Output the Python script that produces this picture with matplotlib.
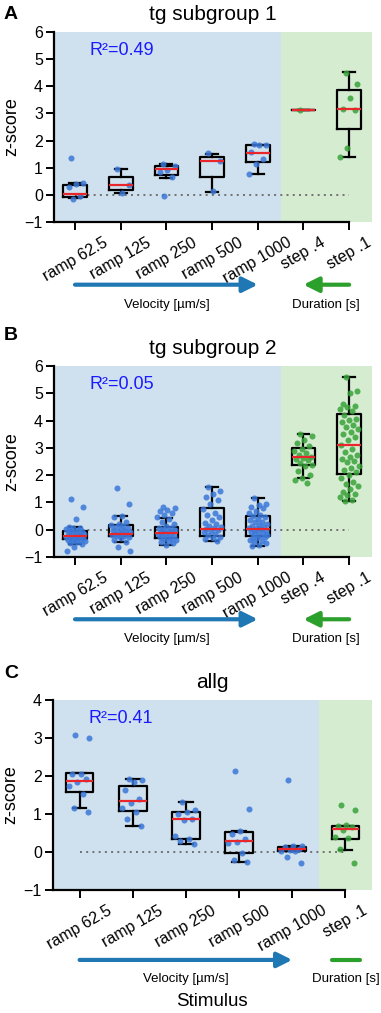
import numpy as np
import matplotlib
matplotlib.use('Agg')
import matplotlib.pyplot as plt

plt.rcParams['font.family'] = ['Liberation Sans', 'DejaVu Sans']

# ---- data ----
labels_ab = ['ramp 62.5', 'ramp 125', 'ramp 250', 'ramp 500', 'ramp 1000', 'step .4', 'step .1']
labels_c = ['ramp 62.5', 'ramp 125', 'ramp 250', 'ramp 500', 'ramp 1000', 'step .1']

# panel A: tg subgroup 1
a_q1 = [-0.08, 0.17, 0.72, 0.66, 1.22, 3.12, 2.43]
a_med = [0.04, 0.36, 0.96, 1.24, 1.55, 3.12, 3.18]
a_q3 = [0.37, 0.66, 1.06, 1.38, 1.84, 3.12, 3.85]
a_lo = [-0.12, 0.05, 0.63, 0.12, 0.77, 3.12, 1.40]
a_hi = [0.42, 0.96, 1.12, 1.50, 1.85, 3.12, 4.52]
a_points = [
    [1.34, 0.43, 0.40, 0.28, -0.05, -0.14],
    [0.96, 0.37, 0.05],
    [1.12, 1.05, 0.92, 0.85, 0.66, -0.05],
    [1.53, 1.23, 0.13],
    [1.86, 1.85, 1.83, 1.57, 1.32, 1.15, 0.78],
    [3.12],
    [4.50, 4.08, 3.58, 3.15, 3.12, 1.72, 1.40],
]

# panel B: tg subgroup 2
b_q1 = [-0.35, -0.24, -0.30, -0.23, -0.23, 2.39, 2.03]
b_med = [-0.24, -0.16, -0.11, 0.01, 0.02, 2.65, 3.10]
b_q3 = [-0.05, 0.17, 0.10, 0.81, 0.51, 2.98, 4.25]
b_lo = [-0.54, -0.45, -0.55, -0.41, -0.59, 1.88, 1.05]
b_hi = [0.10, 0.50, 0.43, 1.56, 1.17, 3.49, 5.60]
b_points = [
    [1.14, 0.82, 0.38, 0.10, 0.08, 0.05, 0.02, 0.0, -0.03, -0.05, -0.08, -0.10, -0.12,
     -0.15, -0.17, -0.20, -0.22, -0.24, -0.25, -0.27, -0.28, -0.30, -0.32, -0.34, -0.36,
     -0.38, -0.40, -0.42, -0.45, -0.50, -0.54, -0.62, -0.78],
    [1.54, 0.94, 0.50, 0.45, 0.30, 0.20, 0.17, 0.12, 0.10, 0.05, 0.02, -0.02, -0.05,
     -0.08, -0.10, -0.13, -0.15, -0.16, -0.18, -0.20, -0.22, -0.24, -0.28, -0.32, -0.38,
     -0.45, -0.62, -0.78],
    [0.83, 0.79, 0.72, 0.68, 0.62, 0.55, 0.47, 0.40, 0.30, 0.20, 0.12, 0.08, 0.05, 0.02,
     -0.02, -0.05, -0.08, -0.10, -0.12, -0.14, -0.17, -0.20, -0.23, -0.26, -0.28, -0.30,
     -0.33, -0.36, -0.40, -0.45, -0.50, -0.55],
    [1.56, 1.42, 1.30, 1.20, 1.10, 0.95, 0.75, 0.62, 0.55, 0.45, 0.35, 0.25, 0.20, 0.15,
     0.10, 0.05, 0.02, 0.0, -0.05, -0.10, -0.15, -0.20, -0.25, -0.30, -0.35, -0.40],
    [1.17, 0.95, 0.90, 0.85, 0.78, 0.70, 0.62, 0.55, 0.50, 0.45, 0.40, 0.35, 0.30, 0.28,
     0.22, 0.18, 0.15, 0.10, 0.08, 0.05, 0.02, 0.0, -0.03, -0.06, -0.10, -0.13, -0.16,
     -0.20, -0.22, -0.25, -0.28, -0.32, -0.36, -0.40, -0.45, -0.50, -0.55, -0.60],
    [3.52, 3.42, 3.30, 3.18, 3.05, 2.97, 2.90, 2.82, 2.75, 2.68, 2.64, 2.58, 2.54, 2.45,
     2.38, 2.32, 2.17, 1.99, 1.90, 1.81, 1.72],
    [5.60, 5.10, 5.02, 4.60, 4.53, 4.48, 4.43, 4.35, 4.19, 4.07, 4.02, 3.95, 3.85, 3.76,
     3.70, 3.58, 3.52, 3.40, 3.27, 3.10, 2.97, 2.85, 2.72, 2.65, 2.60, 2.52, 2.48, 2.35,
     2.27, 2.20, 2.11, 1.99, 1.90, 1.75, 1.69, 1.60, 1.50, 1.38, 1.32, 1.26, 1.20, 1.10, 1.05],
]

# panel C: allg
c_q1 = [1.57, 1.09, 0.35, -0.03, 0.03, 0.34]
c_med = [1.87, 1.33, 0.88, 0.28, 0.08, 0.60]
c_q3 = [2.07, 1.75, 1.05, 0.53, 0.14, 0.69]
c_lo = [1.15, 0.68, 0.21, -0.27, 0.02, 0.06]
c_hi = [2.07, 1.92, 1.32, 0.55, 0.16, 0.69]
c_points = [
    [3.09, 2.99, 2.06, 2.05, 1.93, 1.83, 1.75, 1.52, 1.15, 1.05],
    [1.93, 1.90, 1.83, 1.62, 1.40, 1.30, 1.16, 1.05, 0.88, 0.68],
    [1.32, 1.10, 1.05, 1.00, 0.88, 0.84, 0.42, 0.35, 0.30, 0.22],
    [2.12, 1.12, 0.56, 0.47, 0.34, 0.27, 0.25, -0.02, -0.20, -0.27],
    [1.89, 0.17, 0.15, 0.12, 0.09, 0.06, 0.03, 0.02, -0.12, -0.28],
    [1.25, 1.10, 0.72, 0.68, 0.66, 0.57, 0.40, 0.36, 0.07, -0.30],
]

BLUE_BG = '#cfe1ee'
GREEN_BG = '#d5ecd1'
BLUE_DOT = '#3b78d8'
GREEN_DOT = '#3aa33a'
BLUE_ARROW = '#1f77b4'
GREEN_ARROW = '#2ca02c'

W, H = 381, 1013


def px_axes(left, top, right, bottom):
    return [left / W, 1 - bottom / H, (right - left) / W, (bottom - top) / H]


def draw_panel(ax, labels, q1, med, q3, lo, hi, points, ylim, r2, xmin, title):
    n = len(labels)
    n_ramp = 5
    xmax = n - 0.5
    ax.axvspan(xmin, n_ramp - 0.5, color=BLUE_BG, zorder=0, lw=0)
    ax.axvspan(n_ramp - 0.5, xmax, color=GREEN_BG, zorder=0, lw=0)
    ax.plot([0, n - 1], [0, 0], ls=(0, (1, 2.2)), color='#707070', lw=1.4, zorder=1)

    stats = []
    for i in range(n):
        stats.append(dict(q1=q1[i], med=med[i], q3=q3[i], whislo=lo[i], whishi=hi[i], fliers=[]))
    ax.bxp(stats, positions=range(n), widths=0.52, capwidths=0.26, showfliers=False,
           boxprops=dict(color='black', lw=1.6),
           whiskerprops=dict(color='black', lw=1.6),
           capprops=dict(color='black', lw=1.6),
           medianprops=dict(color='#e8262b', lw=1.6, zorder=5),
           manage_ticks=False)

    for i, vals in enumerate(points):
        k = np.arange(len(vals))
        offs = ((k * 0.6180339 + 0.31) % 1.0 - 0.5) * 0.42
        col = BLUE_DOT if i < n_ramp else GREEN_DOT
        ax.scatter(i + offs, vals, s=19, color=col, alpha=0.85, lw=0, zorder=4)

    ax.set_xlim(xmin, xmax)
    ax.set_ylim(*ylim)
    ax.set_yticks(range(ylim[0], ylim[1] + 1))
    ax.set_xticks(range(n))
    ax.set_xticklabels(labels, rotation=30, ha='center', fontsize=11.5)
    ax.tick_params(axis='both', length=6, width=1.4, labelsize=11.5)
    ax.tick_params(axis='y', pad=2)
    ax.spines['top'].set_visible(False)
    ax.spines['right'].set_visible(False)
    ax.spines['left'].set_linewidth(1.6)
    ax.spines['bottom'].set_linewidth(1.6)
    ax.spines['bottom'].set_bounds(xmin, n - 1)
    ax.set_ylabel('z-score', fontsize=13, labelpad=3)
    ax.set_title(title, fontsize=15, pad=9)
    ax.text(0.112, 0.88, r2, transform=ax.transAxes, color='#1a1aff', fontsize=13, va='baseline')


fig = plt.figure(figsize=(W / 100, H / 100), dpi=100)

ax_a = fig.add_axes(px_axes(54, 32, 372, 222))
ax_b = fig.add_axes(px_axes(54, 366, 372, 557))
ax_c = fig.add_axes(px_axes(53, 700, 372, 890))

draw_panel(ax_a, labels_ab, a_q1, a_med, a_q3, a_lo, a_hi, a_points, (-1, 6), 'R²=0.49', -0.46, 'tg subgroup 1')
draw_panel(ax_b, labels_ab, b_q1, b_med, b_q3, b_lo, b_hi, b_points, (-1, 6), 'R²=0.05', -0.46, 'tg subgroup 2')
draw_panel(ax_c, labels_c, c_q1, c_med, c_q3, c_lo, c_hi, c_points, (-1, 4), 'R²=0.41', -0.5, 'allg')

# direction arrows below the axes
for ax, ya, yt in [(ax_a, -0.33, -0.405), (ax_b, -0.326, -0.40)]:
    tr = ax.get_xaxis_transform()
    ax.annotate('', xy=(4, ya), xytext=(0, ya), xycoords=tr, textcoords=tr, annotation_clip=False,
                arrowprops=dict(arrowstyle='-|>,head_length=0.9,head_width=0.45', lw=3,
                                color=BLUE_ARROW, shrinkA=0, shrinkB=0))
    ax.annotate('', xy=(5, ya), xytext=(6, ya), xycoords=tr, textcoords=tr, annotation_clip=False,
                arrowprops=dict(arrowstyle='-|>,head_length=0.9,head_width=0.45', lw=3,
                                color=GREEN_ARROW, shrinkA=0, shrinkB=0))
    ax.text(2, yt, 'Velocity [µm/s]', transform=tr, ha='center', va='top', fontsize=9.5)
    ax.text(5.5, yt, 'Duration [s]', transform=tr, ha='center', va='top', fontsize=9.5)

tr = ax_c.get_xaxis_transform()
ax_c.annotate('', xy=(4, -0.368), xytext=(0, -0.368), xycoords=tr, textcoords=tr, annotation_clip=False,
              arrowprops=dict(arrowstyle='-|>,head_length=0.9,head_width=0.45', lw=3,
                              color=BLUE_ARROW, shrinkA=0, shrinkB=0))
ax_c.plot([4.75, 5.27], [-0.368, -0.368], transform=tr, color=GREEN_ARROW, lw=3,
          solid_capstyle='round', clip_on=False)
ax_c.text(2, -0.437, 'Velocity [µm/s]', transform=tr, ha='center', va='top', fontsize=9.5)
ax_c.text(5, -0.437, 'Duration [s]', transform=tr, ha='center', va='top', fontsize=9.5)

fig.text(212 / W, 1 - 1006 / H, 'Stimulus', ha='center', va='baseline', fontsize=13.5)

# panel letters
for letter, yb in [('A', 19), ('B', 340), ('C', 678)]:
    fig.text(4 / W, 1 - yb / H, letter, fontsize=14, fontweight='bold', va='baseline')

fig.savefig('out.png', dpi=100)
